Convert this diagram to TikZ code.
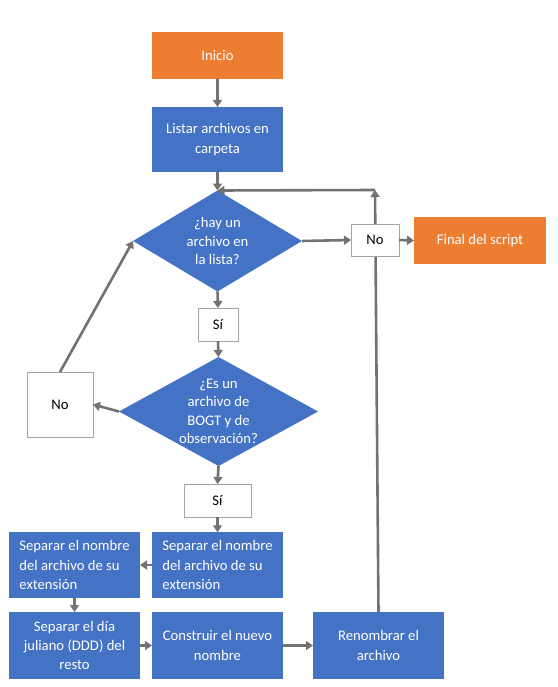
\documentclass[tikz,border=0pt]{standalone}
\usepackage{fontspec}
\setmainfont{Carlito}
\usetikzlibrary{shapes.geometric,arrows.meta}
\definecolor{bblue}{HTML}{4472C4}
\definecolor{borange}{HTML}{ED7D31}
\definecolor{agray}{HTML}{767171}
\definecolor{wgray}{HTML}{A5A5A5}
\begin{document}
\begin{tikzpicture}[x=1pt,y=-1pt,
  every node/.style={font=\fontsize{14.67}{19.3}\selectfont, inner sep=0pt, outer sep=0pt},
  bluebox/.style={rectangle, fill=bblue, text=white, align=center},
  orangebox/.style={rectangle, fill=borange, text=white, align=center},
  whitebox/.style={rectangle, fill=white, draw=wgray, line width=1pt, text=black, align=center},
  dia/.style={diamond, fill=bblue, inner sep=0pt},
  dtext/.style={text=white, align=center, font=\fontsize{14.67}{18.5}\selectfont},
  conn/.style={draw=agray, line width=2.6pt, -{Triangle[width=9pt,length=7pt]}},
  plain/.style={draw=agray, line width=2.6pt}
]
\useasboundingbox (0,0) rectangle (557,687);
\fill[white] (0,0) rectangle (557,687);

% nodes
\node[orangebox, minimum width=131pt, minimum height=47pt] (ini) at (217.5,55.5) {Inicio};
\node[bluebox, minimum width=131pt, minimum height=65pt] (lis) at (217.5,139.5) {Listar archivos en\\carpeta};
\node[dia, minimum width=169pt, minimum height=101pt,
  label={[dtext]center:{¿hay un\\archivo en\\la lista?}}] (d1) at (217.5,241) {};
\node[orangebox, minimum width=132pt, minimum height=47pt] (fin) at (480,240.5) {Final del script};
\node[dia, minimum width=199pt, minimum height=109pt,
  label={[dtext]center:{¿Es un\\archivo de\\BOGT y de\\observación?}}] (d2) at (218.5,411.5) {};
\node[bluebox, minimum width=131pt, minimum height=65.5pt, align=left] (sep2) at (217.5,565) {Separar el nombre\\del archivo de su\\extensión};
\node[bluebox, minimum width=131pt, minimum height=65.5pt, align=left] (sep1) at (74.5,565) {Separar el nombre\\del archivo de su\\extensión};
\node[bluebox, minimum width=131pt, minimum height=67pt] (sep3) at (74.5,645.5) {Separar el día\\juliano (DDD) del\\resto};
\node[bluebox, minimum width=131pt, minimum height=67pt] (con) at (217.5,645.5) {Construir el nuevo\\nombre};
\node[bluebox, minimum width=131pt, minimum height=67pt] (ren) at (378.5,645.5) {Renombrar el\\archivo};
\coordinate (corner) at (375,190);

% connectors drawn below white boxes
\draw[conn] (ren.north) -- (corner);
\draw[conn] (corner) -- (d1.north);
\draw[conn] (ini.south) -- (lis.north);
\draw[conn] (lis.south) -- (d1.north);

% white boxes
\node[whitebox, minimum width=48pt, minimum height=32pt] (nor) at (375,240) {No};
\node[whitebox, minimum width=40pt, minimum height=33pt] (si1) at (218,324.5) {Sí};
\node[whitebox, minimum width=67pt, minimum height=33pt] (si2) at (217.5,500.5) {Sí};
\node[whitebox, minimum width=66pt, minimum height=65pt] (nol) at (60,404.5) {No};

\draw[conn] (d1.east) -- (nor.west);
\draw[conn] (nor.east) -- (fin.west);
\draw[conn] (d1.south) -- (si1.north);
\draw[conn] (si1.south) -- (d2.north);
\draw[conn] (d2.west) -- (nol.east);
\draw[conn] (nol.north) -- (d1.west);
\draw[conn] (d2.south) -- (si2.north);
\draw[conn] (si2.south) -- (sep2.north);
\draw[conn] (sep2.west) -- (sep1.east);
\draw[conn] (sep1.south) -- (sep3.north);
\draw[conn] (sep3.east) -- (con.west);
\draw[conn] (con.east) -- (ren.west);
\end{tikzpicture}
\end{document}
